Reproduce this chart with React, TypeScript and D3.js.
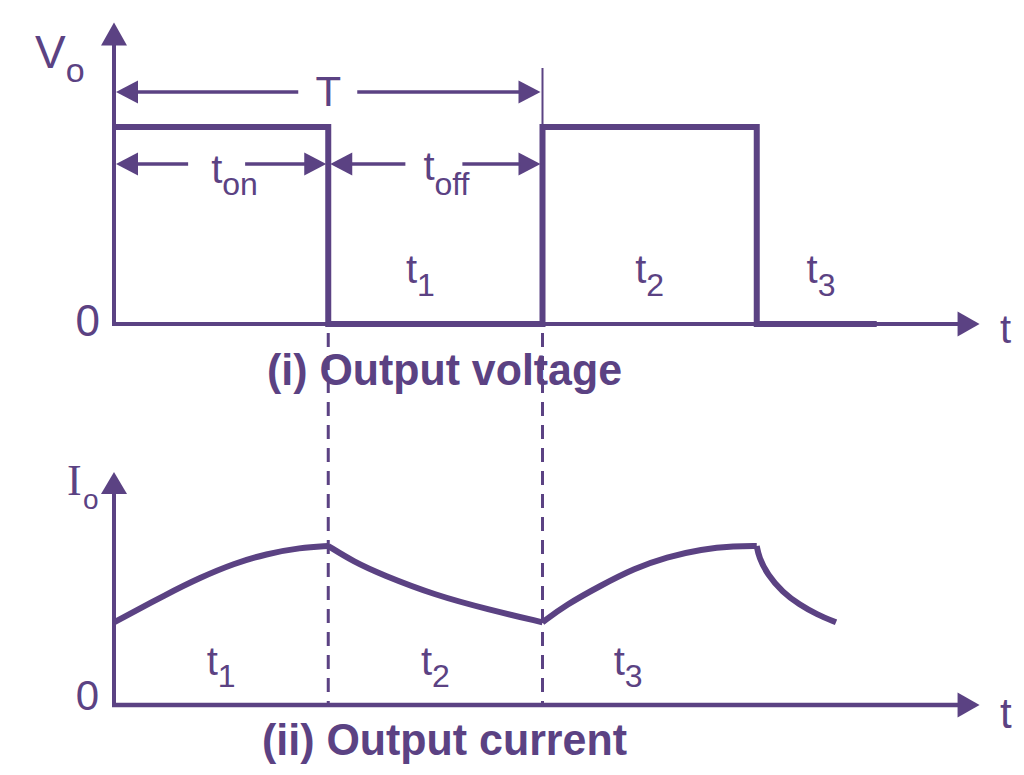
import React from 'react';
import * as d3 from 'd3';

const PURPLE = '#5b4283';
const SANS = '"Liberation Sans", Arial, sans-serif';
const SERIF = '"Liberation Serif", "Times New Roman", serif';

// switching instants: t_on and T
const switchTimes = [1, 2];

// output voltage (square wave)
const voltageTimes = [0, 1, 2, 3, 3.56];
const voltageLevels = [1, 0, 1, 0, 0];

// output current, one array pair per rise / fall
const rise1T = [0, 0.25, 0.4, 0.56, 0.71, 0.87, 1.0];
const rise1I = [0.52, 0.7, 0.8, 0.89, 0.95, 0.99, 1.0];
const fall1T = [1, 1.12, 1.25, 1.5, 1.75, 2];
const fall1I = [1.0, 0.9, 0.82, 0.69, 0.6, 0.52];
const rise2T = [2, 2.11, 2.27, 2.43, 2.58, 2.74, 2.9, 3];
const rise2I = [0.52, 0.63, 0.75, 0.86, 0.93, 0.98, 1.0, 1.0];
const fall2T = [3, 3.01, 3.05, 3.12, 3.2, 3.28, 3.37];
const fall2I = [1.0, 0.93, 0.82, 0.71, 0.63, 0.57, 0.52];

// interval labels t1, t2, t3
const voltageIntervals = ['1', '2', '3'];
const voltageIntervalAt = [1.43, 2.5, 3.3];
const currentIntervals = ['1', '2', '3'];
const currentIntervalAt = [0.5, 1.5, 2.4];

const tMax = 4.04;
const vMax = 1.53;
const iMax = 1.465;

const head = (tx: number, ty: number, dir: 'l' | 'r' | 'u', len = 22, half = 12) => {
  if (dir === 'l') return `${tx},${ty} ${tx + len},${ty - half} ${tx + len},${ty + half}`;
  if (dir === 'r') return `${tx},${ty} ${tx - len},${ty - half} ${tx - len},${ty + half}`;
  return `${tx},${ty} ${tx - half},${ty + len} ${tx + half},${ty + len}`;
};

const App = () => {
  const width = 1024;
  const height = 775;

  const x = d3.scaleLinear().domain([0, 4]).range([114, 971]);
  const yV = d3.scaleLinear().domain([0, 1]).range([324, 127]);
  const yI = d3.scaleLinear().domain([0, 1]).range([705, 546]);

  const wave = d3.line<number>()
    .x((d, i) => x(voltageTimes[i]))
    .y(d => yV(d))
    .curve(d3.curveStepAfter);

  const curLine = d3.line<[number, number]>()
    .x(d => x(d[0]))
    .y(d => yI(d[1]))
    .curve(d3.curveBasis);

  const segments = [
    [rise1T, rise1I], [fall1T, fall1I], [rise2T, rise2I], [fall2T, fall2I],
  ].map(([ts, is]) => ts.map((t, k) => [t, is[k]] as [number, number]));

  // dimension arrows (T, t_on, t_off)
  const dims = [
    { a: 0, b: 2, level: 1.178, gap: [-30, 29] },
    { a: 0, b: 1, level: 0.812, gap: [-33, 24] },
    { a: 1, b: 2, level: 0.812, gap: [-30, 27] },
  ];

  const sw = 4;

  return (
    <svg width={width} height={height} style={{ position: 'absolute', left: 0, top: 0, background: '#fff' }}>
      {/* upper axes */}
      <line x1={x(0)} x2={x(0)} y1={yV(0) + 2} y2={yV(vMax) + 20} stroke={PURPLE} strokeWidth={sw} />
      <polygon points={head(x(0), yV(vMax), 'u', 23, 13)} fill={PURPLE} />
      <line x1={x(0) - 2} x2={x(tMax) - 20} y1={yV(0)} y2={yV(0)} stroke={PURPLE} strokeWidth={sw} />
      <polygon points={head(x(tMax), yV(0), 'r', 22, 12.5)} fill={PURPLE} />

      {/* lower axes */}
      <line x1={x(0)} x2={x(0)} y1={yI(0) + 2} y2={yI(iMax) + 20} stroke={PURPLE} strokeWidth={sw} />
      <polygon points={head(x(0), yI(iMax), 'u', 22, 13)} fill={PURPLE} />
      <line x1={x(0) - 2} x2={x(tMax) - 20} y1={yI(0)} y2={yI(0)} stroke={PURPLE} strokeWidth={sw + 0.5} />
      <polygon points={head(x(tMax), yI(0), 'r', 22, 12.5)} fill={PURPLE} />

      {/* dashed guides */}
      {switchTimes.map(t => (
        <line key={t} x1={x(t)} x2={x(t)} y1={333} y2={yI(0)} stroke={PURPLE} strokeWidth={3} strokeDasharray="14 9" />
      ))}

      {/* square wave */}
      <path d={wave(voltageLevels) || ''} fill="none" stroke={PURPLE} strokeWidth={6} strokeLinejoin="miter" />

      {/* current */}
      {segments.map((s, k) => (
        <path key={k} d={curLine(s) || ''} fill="none" stroke={PURPLE} strokeWidth={6} strokeLinejoin="round" />
      ))}

      {/* extension line at T */}
      <line x1={x(2)} x2={x(2)} y1={68} y2={yV(1)} stroke={PURPLE} strokeWidth={2} />

      {/* dimension arrows */}
      {dims.map((d, k) => {
        const y = yV(d.level);
        const xa = x(d.a) + 2;
        const xb = x(d.b) - 2;
        const mid = (x(d.a) + x(d.b)) / 2;
        return (
          <g key={k}>
            <polygon points={head(xa, y, 'l', 22, 11.5)} fill={PURPLE} />
            <polygon points={head(xb, y, 'r', 22, 11.5)} fill={PURPLE} />
            <line x1={xa + 20} x2={mid + d.gap[0]} y1={y} y2={y} stroke={PURPLE} strokeWidth={3.5} />
            <line x1={mid + d.gap[1]} x2={xb - 20} y1={y} y2={y} stroke={PURPLE} strokeWidth={3.5} />
          </g>
        );
      })}

      <g fill={PURPLE} fontFamily={SANS}>
        <text x={(x(0) + x(2)) / 2} y={106} fontSize={42} textAnchor="middle">T</text>
        <text x={(x(0) + x(1)) / 2 - 10} y={183}>
          <tspan fontSize={40}>t</tspan>
          <tspan fontSize={32} dy={12}>on</tspan>
        </text>
        <text x={(x(1) + x(2)) / 2 - 12} y={180}>
          <tspan fontSize={40}>t</tspan>
          <tspan fontSize={32} dy={15}>off</tspan>
        </text>

        {/* axis names */}
        <text x={35} y={68}>
          <tspan fontSize={46}>V</tspan>
          <tspan fontSize={34} dy={14}>o</tspan>
        </text>
        <text x={67} y={495} fontFamily={SERIF} fontSize={44}>I</text>
        <text x={83} y={509} fontSize={28}>o</text>

        <text x={100} y={336} fontSize={44} textAnchor="end">0</text>
        <text x={99} y={710} fontSize={42} textAnchor="end">0</text>
        <text x={1000} y={343} fontSize={40}>t</text>
        <text x={1000} y={728} fontSize={42}>t</text>

        {voltageIntervals.map((s, k) => (
          <text key={s} x={x(voltageIntervalAt[k])} y={283} textAnchor="middle">
            <tspan fontSize={40}>t</tspan>
            <tspan fontSize={32} dy={13}>{s}</tspan>
          </text>
        ))}
        {currentIntervals.map((s, k) => (
          <text key={s} x={x(currentIntervalAt[k])} y={675} textAnchor="middle">
            <tspan fontSize={40}>t</tspan>
            <tspan fontSize={32} dy={12}>{s}</tspan>
          </text>
        ))}

        <text x={267} y={385} fontSize={44} fontWeight="bold" textLength={355} lengthAdjust="spacingAndGlyphs">
          (i) Output voltage
        </text>
        <text x={262} y={755} fontSize={44} fontWeight="bold" textLength={365} lengthAdjust="spacingAndGlyphs">
          (ii) Output current
        </text>
      </g>
    </svg>
  );
};

export default App;
